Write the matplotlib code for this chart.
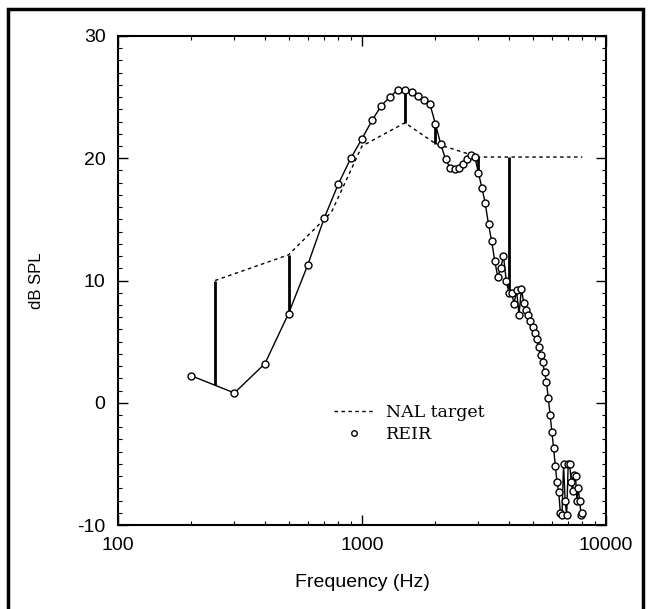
import numpy as np
import matplotlib.pyplot as plt
from matplotlib.patches import Rectangle
from matplotlib.ticker import FixedLocator, MultipleLocator, NullFormatter

plt.rcParams['axes.unicode_minus'] = False

# REIR measurement (Hz, dB SPL)
reir_freq = [200, 300, 400, 500, 600, 700, 800, 900, 1000, 1100,
             1200, 1300, 1400, 1500, 1600, 1700, 1800, 1900, 2000, 2100,
             2200, 2300, 2400, 2500, 2600, 2700, 2800, 2900, 3000, 3100,
             3200, 3300, 3400, 3500, 3600, 3700, 3800, 3900, 4000, 4100,
             4200, 4300, 4400, 4500, 4600, 4700, 4800, 4900, 5000, 5100,
             5200, 5300, 5400, 5500, 5600, 5700, 5800, 5900, 6000, 6100,
             6200, 6300, 6400, 6500, 6600, 6700, 6800, 6900, 7000, 7100,
             7200, 7300, 7400, 7500, 7600, 7700, 7800, 7900, 8000]
reir_level = [2.2, 0.8, 3.2, 7.3, 11.3, 15.1, 17.9, 20.0, 21.6, 23.1,
              24.3, 25.0, 25.6, 25.6, 25.4, 25.1, 24.8, 24.4, 22.8, 21.2,
              19.9, 19.2, 19.1, 19.2, 19.5, 19.9, 20.3, 20.1, 18.8, 17.6,
              16.3, 14.6, 13.2, 11.6, 10.3, 11.0, 12.0, 10.0, 9.0, 9.0,
              8.1, 9.2, 7.2, 9.3, 8.2, 7.6, 7.2, 6.7, 6.2, 5.7,
              5.2, 4.6, 3.9, 3.3, 2.5, 1.7, 0.4, -1.0, -2.4, -3.7,
              -5.2, -6.5, -7.3, -9.0, -9.2, -5.0, -8.0, -9.2, -5.0, -5.0,
              -6.5, -7.2, -5.9, -6.0, -8.0, -7.0, -8.0, -9.2, -9.0]

# NAL target
nal_freq = [250, 500, 750, 1000, 1500, 2000, 3000, 4000, 6000, 8000]
nal_level = [10.0, 12.1, 15.6, 21.0, 22.9, 21.2, 20.1, 20.1, 20.1, 20.1]

# frequencies where target vs REIR difference is marked
diff_freq = [250, 500, 1500, 2000, 3000, 4000]

fig = plt.figure(figsize=(6.49, 6.09), dpi=100)
ax = fig.add_axes([118 / 649, 1 - 525 / 609, 488 / 649, 489 / 609])

# outer frame
fig.patches.append(Rectangle((8 / 649, -0.05), 635 / 649, 1.05 - 9 / 609,
                             transform=fig.transFigure, fill=False,
                             edgecolor='black', linewidth=2.5))

nal_at = np.interp(np.log10(diff_freq), np.log10(nal_freq), nal_level)
reir_at = np.interp(np.log10(diff_freq), np.log10(reir_freq), reir_level)
ax.vlines(diff_freq, reir_at, nal_at, color='black', linewidth=2)

ax.plot(nal_freq, nal_level, color='black', linewidth=1,
        linestyle=(0, (2.5, 2.5)), label='NAL target')
ax.plot(reir_freq, reir_level, color='black', linewidth=1)
ax.plot(reir_freq, reir_level, linestyle='none', marker='o', markersize=5,
        markerfacecolor='white', markeredgecolor='black', markeredgewidth=1)
ax.plot([], [], linestyle='none', marker='o', markersize=4,
        markerfacecolor='white', markeredgecolor='black', label='REIR')

ax.set_xscale('log')
ax.set_xlim(100, 10000)
ax.set_ylim(-10, 30)
ax.xaxis.set_major_locator(FixedLocator([100, 1000, 10000]))
ax.set_xticklabels(['100', '1000', '10000'])
ax.xaxis.set_minor_locator(FixedLocator(
    [200, 300, 400, 500, 600, 700, 800, 900,
     2000, 3000, 4000, 5000, 6000, 7000, 8000, 9000]))
ax.xaxis.set_minor_formatter(NullFormatter())
ax.yaxis.set_major_locator(MultipleLocator(10))
ax.yaxis.set_minor_locator(MultipleLocator(1))

ax.tick_params(which='both', direction='in', top=True, right=True)
ax.tick_params(which='major', length=7, width=1, pad=9, labelsize=14)
ax.tick_params(which='minor', length=3, width=0.8)
for lab in ax.get_xticklabels() + ax.get_yticklabels():
    lab.set_family('Liberation Sans')
for s in ax.spines.values():
    s.set_linewidth(1.5)

ax.set_xlabel('Frequency (Hz)', family='Liberation Sans', fontsize=14, labelpad=14)
ax.set_ylabel('dB SPL', family='Liberation Sans', fontsize=12, labelpad=24)

ax.legend(loc='upper left', bbox_to_anchor=(0.424, 0.265), frameon=False,
          borderpad=0, handlelength=2.3, handletextpad=0.7, labelspacing=0.3,
          prop={'family': 'DejaVu Serif', 'size': 12.5})

fig.savefig('out.png', dpi=100)
